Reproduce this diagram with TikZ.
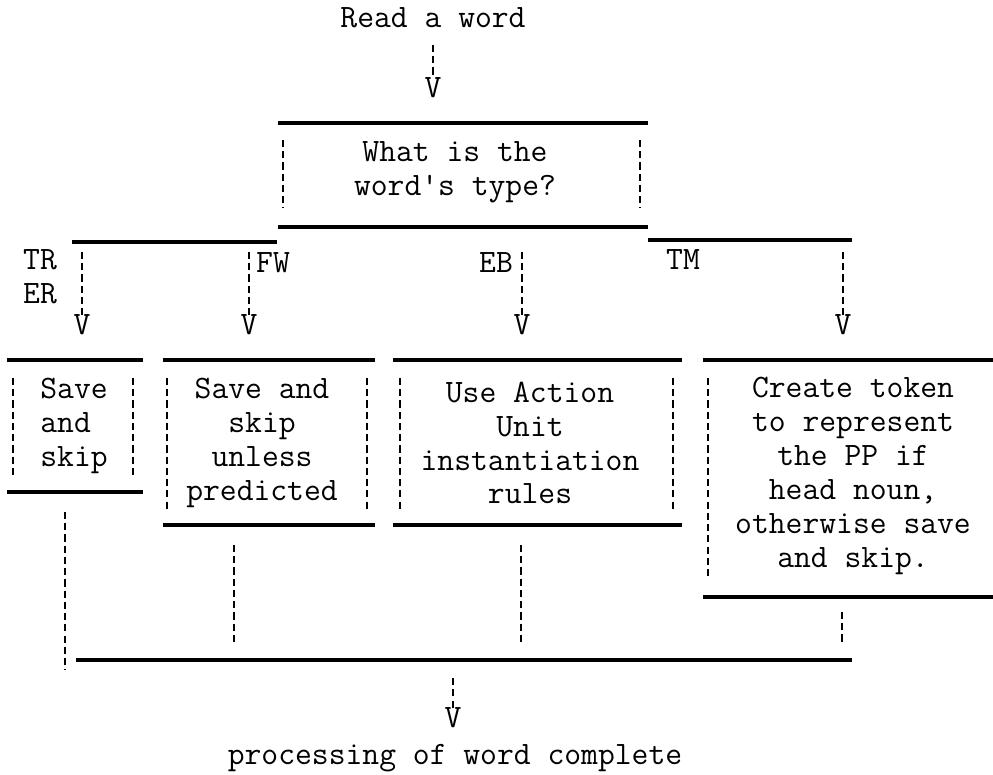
\documentclass[tikz,border=0pt]{standalone}
\usepackage{fontspec}
\usetikzlibrary{positioning}

\tikzset{
  rule/.style={line width=2.3pt},
  bar/.style={line width=1.1pt,dash pattern=on 4pt off 2.4pt},
  txt/.style={font=\ttfamily\fontsize{18.6}{19.3}\selectfont,inner sep=0pt,align=center},
}

\begin{document}
\begin{tikzpicture}[x=0.02cm,y=-0.02cm]
\useasboundingbox (0,0) rectangle (993,774);
% entry and type test
\node[txt] (read) at (433,18) {Read a word};
\node[txt] (v0) at (433,88) {V};
\draw[bar] (433,45) -- (v0.north);
\draw[rule] (278,123) -- (648,123);
\draw[rule] (278,227) -- (648,227);
\draw[bar] (283,140) -- (283,208);
\draw[bar] (640,140) -- (640,208);
\node[txt] (type) at (455,172) {What is the\\word's type?};
% branches
\draw[rule] (72,242) -- (277,242);
\draw[rule] (648,240) -- (852,240);
\node[txt,align=left] (trer) at (40,277) {TR\\ER};
\node[txt] (fw) at (273,263) {FW};
\node[txt] (eb) at (496,263) {EB};
\node[txt] (tm) at (683,260) {TM};
\foreach \x/\n in {82/a,249/b,522/c,843/d}{
  \node[txt] (v\n) at (\x,325) {V};
  \draw[bar] (\x,252) -- (v\n.north);
}
% action boxes
\draw[rule] (7,360) -- (143,360);
\draw[rule] (163,360) -- (375,360);
\draw[rule] (393,360) -- (682,360);
\draw[rule] (703,360) -- (993,360);
\draw[rule] (7,492) -- (143,492);
\draw[rule] (163,525) -- (375,525);
\draw[rule] (393,525) -- (682,525);
\draw[rule] (703,597) -- (993,597);
\foreach \x in {13,133} \draw[bar] (\x,378) -- (\x,476);
\foreach \x in {167,367,400,673} \draw[bar] (\x,378) -- (\x,510);
\draw[bar] (708,378) -- (708,578);
\node[txt,align=left,anchor=west] (boxa) at (40,426) {Save\\and\\skip};
\node[txt] (boxb) at (262,443) {Save and\\skip\\unless\\predicted};
\node[txt] (boxc) at (530,443) {Use Action\\Unit\\instantiation\\rules};
\node[txt] (boxd) at (853,476) {Create token\\to represent\\the PP if\\head noun,\\otherwise save\\and skip.};
% merge
\draw[bar] (65,512) -- (65,670);
\draw[bar] (234,545) -- (234,645);
\draw[bar] (521,545) -- (521,645);
\draw[bar] (842,612) -- (842,645);
\draw[rule] (76,660) -- (852,660);
\node[txt] (vend) at (453,718) {V};
\draw[bar] (453,678) -- (vend.north);
\node[txt] (done) at (455,758) {processing of word complete};
\end{tikzpicture}
\end{document}
